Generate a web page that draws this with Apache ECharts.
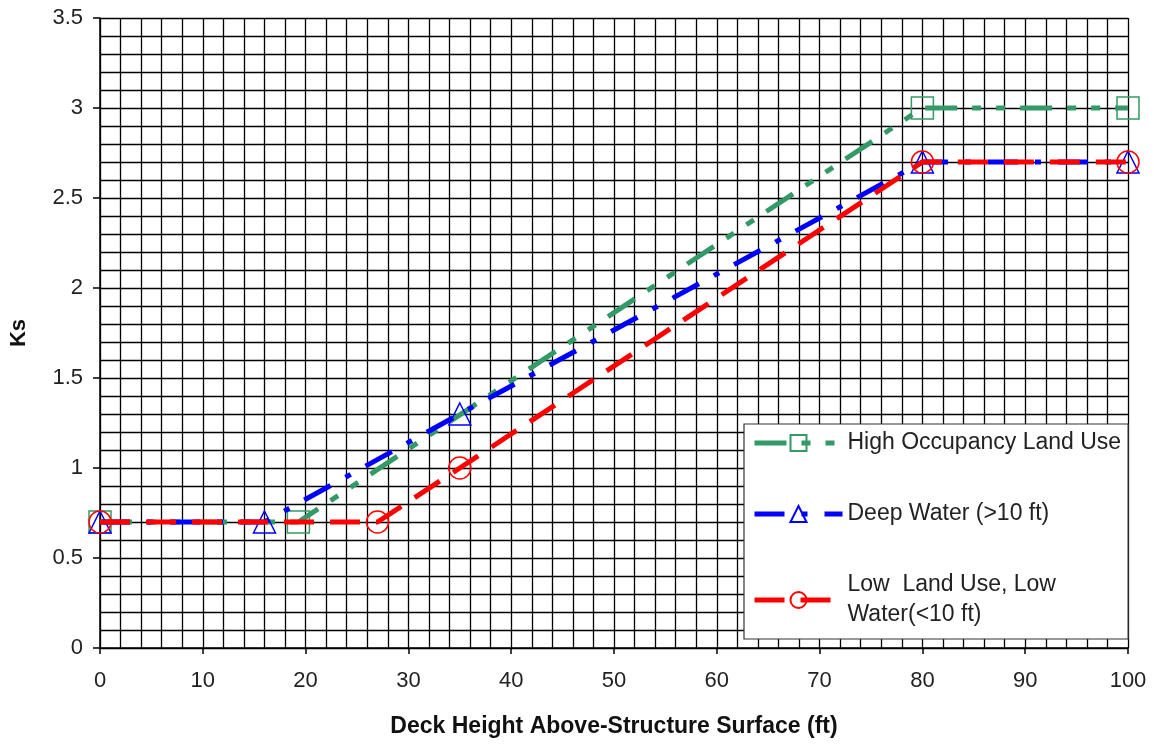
<!DOCTYPE html>
<html><head><meta charset="utf-8">
<script src="https://cdn.jsdelivr.net/npm/echarts@6/dist/echarts.min.js"></script>
<style>html,body{margin:0;padding:0;background:#fff}#c{width:1154px;height:746px}</style>
</head><body><div id="c"></div>
<script>
// Data
const seriesNames = ['High Occupancy Land Use', 'Deep Water (>10 ft)', 'Low  Land Use, Low Water(<10 ft)'];
const highX = [0, 19.3, 80, 100];
const highY = [0.7, 0.7, 3.0, 3.0];
const deepX = [0, 16, 35, 80, 100];
const deepY = [0.7, 0.7, 1.3, 2.7, 2.7];
const lowX = [0, 27, 35, 80, 100];
const lowY = [0.7, 0.7, 1.0, 2.7, 2.7];
const xTitle = 'Deck Height Above-Structure Surface (ft)';
const yTitle = 'Ks';

const pairs = (xs, ys) => xs.map((x, i) => [x, ys[i]]);
const FONT = '"Liberation Sans", Arial, sans-serif';

function mkSeries(name, data, color, symbol, dash, z) {
  return {
    name, type: 'line', data, z,
    symbol, symbolSize: 22,
    itemStyle: { color: 'transparent', borderColor: color, borderWidth: 1.5 },
    lineStyle: { color, width: 5, type: dash, cap: 'butt' },
    emphasis: { disabled: true },
    animation: false
  };
}

const chart = echarts.init(document.getElementById('c'), null, { renderer: 'canvas' });
chart.setOption({
  backgroundColor: '#fff',
  animation: false,
  grid: { left: 100, right: 26, top: 18, bottom: 98, show: false },
  xAxis: {
    type: 'value', min: 0, max: 100, interval: 10,
    name: xTitle, nameLocation: 'middle', nameGap: 67,
    nameTextStyle: { fontFamily: FONT, fontWeight: 'bold', fontSize: 23, color: '#111' },
    axisLine: { show: true, onZero: false, lineStyle: { color: '#000', width: 1.5 } },
    axisTick: { show: true, length: 6, lineStyle: { color: '#000', width: 1.5 } },
    axisLabel: { fontFamily: FONT, fontSize: 22, color: '#222', margin: 22 },
    splitLine: { show: true, lineStyle: { color: '#000', width: 1.3 } },
    minorTick: { show: false, splitNumber: 5 },
    minorSplitLine: { show: true, lineStyle: { color: '#000', width: 1.3 } }
  },
  yAxis: {
    type: 'value', min: 0, max: 3.5, interval: 0.5,
    name: yTitle, nameLocation: 'middle', nameGap: 70,
    nameTextStyle: { fontFamily: FONT, fontWeight: 'bold', fontSize: 22, color: '#111' },
    axisLine: { show: true, onZero: false, lineStyle: { color: '#000', width: 1.5 } },
    axisTick: { show: true, length: 7, lineStyle: { color: '#000', width: 1.5 } },
    axisLabel: { fontFamily: FONT, fontSize: 22, color: '#222', margin: 17 },
    splitLine: { show: true, lineStyle: { color: '#000', width: 1.3 } },
    minorTick: { show: false, splitNumber: 5 },
    minorSplitLine: { show: true, lineStyle: { color: '#000', width: 1.3 } }
  },
  legend: {
    orient: 'vertical', left: 744, top: 424,
    backgroundColor: '#fff', borderColor: '#333', borderWidth: 1.2,
    padding: [4, 7, 9, 8], itemGap: 41,
    itemWidth: 88, itemHeight: 20,
    selectedMode: false,
    data: seriesNames,
    lineStyle: { width: 5 },
    formatter: n => n.replace(', Low ', ', Low\n'),
    textStyle: { fontFamily: FONT, fontSize: 23, lineHeight: 30, color: '#222' }
  },
  series: [
    mkSeries(seriesNames[0], pairs(highX, highY), '#339966', 'rect', [32, 15, 9, 15, 9, 15], 3),
    mkSeries(seriesNames[1], pairs(deepX, deepY), '#0000FF', 'triangle', [30, 17, 6, 17], 4),
    mkSeries(seriesNames[2], pairs(lowX, lowY), '#FF0000', 'circle', [30, 16], 5)
  ]
});
</script></body></html>
